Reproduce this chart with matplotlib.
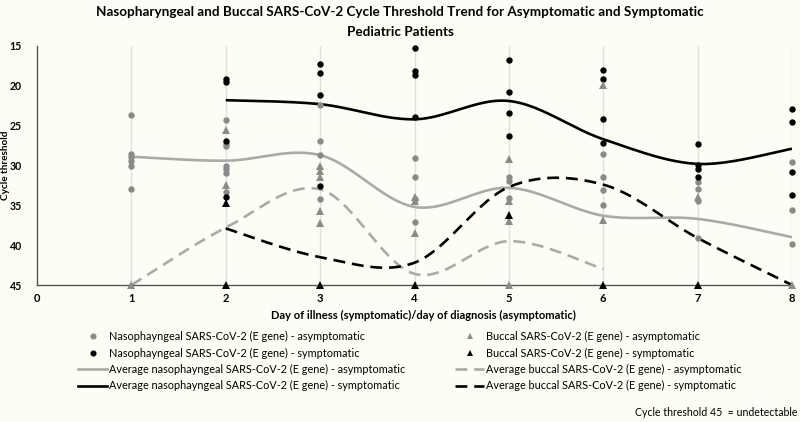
import numpy as np
import matplotlib
matplotlib.use("Agg")
import matplotlib.pyplot as plt
from matplotlib.lines import Line2D

plt.rcParams['font.family'] = ['Lato', 'DejaVu Sans']

# ---- data ----
np_asym = {
    1: [23.6, 28.6, 28.9, 29.4, 30.0, 33.0],
    2: [24.3, 27.3, 27.6, 30.0, 30.4, 30.9, 33.3],
    3: [22.4, 26.9, 28.7, 34.2],
    4: [29.0, 31.4, 34.2, 37.1],
    5: [31.5, 31.9, 34.1],
    6: [28.5, 31.5, 33.1, 35.0],
    7: [32.1, 32.9, 34.5, 39.1],
    8: [29.5, 35.6, 39.9],
}
np_sym = {
    2: [19.2, 19.5, 26.9, 34.0],
    3: [17.3, 18.4, 21.2, 32.6],
    4: [15.2, 18.2, 18.6, 23.9],
    5: [16.8, 20.8, 23.4, 26.3],
    6: [18.0, 19.2, 24.2, 27.2],
    7: [27.3, 29.9, 30.4, 31.4],
    8: [22.9, 24.5, 30.8, 33.7],
}
buc_asym = {
    1: [45],
    2: [25.5, 32.5],
    3: [30.0, 30.7, 31.4, 35.7, 37.2],
    4: [33.9, 34.5, 38.5],
    5: [29.2, 34.5, 37.0, 45],
    6: [19.9, 36.8],
    7: [33.9],
    8: [45],
}
buc_sym = {
    2: [34.7, 45],
    3: [45],
    4: [45],
    5: [36.2],
    6: [45],
    7: [45],
}

avg_np_asym_days = [1, 2, 3, 4, 5, 6, 7, 8]
avg_np_asym = [28.9, 29.4, 28.7, 35.2, 32.8, 36.3, 36.7, 39.0]
avg_np_sym_days = [2, 3, 4, 5, 6, 7, 8]
avg_np_sym = [21.8, 22.3, 24.2, 21.9, 26.7, 29.8, 27.9]
avg_buc_asym_days = [1, 2, 3, 4, 5, 6]
avg_buc_asym = [45, 37.8, 33.0, 43.6, 39.5, 43.0]
avg_buc_sym_days = [2, 3, 4, 5, 6, 7, 8]
avg_buc_sym = [37.9, 41.5, 42.2, 32.7, 32.4, 39.1, 45]

x_ticks = list(range(0, 9))
y_ticks = [15, 20, 25, 30, 35, 40, 45]


def smooth(xs, ys, n=40):
    """Excel-like smoothed line (Catmull-Rom Bezier)."""
    xs = np.asarray(xs, float)
    ys = np.asarray(ys, float)
    px = np.concatenate([[xs[0]], xs, [xs[-1]]])
    py = np.concatenate([[ys[0]], ys, [ys[-1]]])
    outx, outy = [], []
    t = np.linspace(0, 1, n)
    for i in range(1, len(px) - 2):
        p0 = np.array([px[i], py[i]])
        p3 = np.array([px[i + 1], py[i + 1]])
        p1 = p0 + (np.array([px[i + 1], py[i + 1]]) - np.array([px[i - 1], py[i - 1]])) / 6
        p2 = p3 - (np.array([px[i + 2], py[i + 2]]) - np.array([px[i], py[i]])) / 6
        b = ((1 - t) ** 3)[:, None] * p0 + (3 * (1 - t) ** 2 * t)[:, None] * p1 \
            + (3 * (1 - t) * t ** 2)[:, None] * p2 + (t ** 3)[:, None] * p3
        outx.extend(b[:, 0])
        outy.extend(b[:, 1])
    return outx, outy


BG = '#fdfdf6'
GRAY_M = '#8a8a8a'
GRAY_L = '#aaaaaa'

fig = plt.figure(figsize=(8, 4.22), dpi=100, facecolor=BG)
ax = fig.add_axes([37 / 800, 1 - 285 / 422, (792 - 37) / 800, (285 - 46) / 422])
ax.set_facecolor(BG)
ax.set_xlim(0, 8)
ax.set_ylim(45, 15)

for d in range(1, 9):
    ax.axvline(d, color='#e2e2dc', lw=1.0, zorder=0)

lw = 1.9
dash = (4.5, 2.6)
x, y = smooth(avg_np_asym_days, avg_np_asym)
ax.plot(x, y, color=GRAY_L, lw=lw, zorder=2, solid_capstyle='butt')
x, y = smooth(avg_np_sym_days, avg_np_sym)
ax.plot(x, y, color='black', lw=lw, zorder=2, solid_capstyle='butt')
x, y = smooth(avg_buc_asym_days, avg_buc_asym)
ax.plot(x, y, color=GRAY_L, lw=lw, ls=(0, dash), zorder=2)
x, y = smooth(avg_buc_sym_days, avg_buc_sym)
ax.plot(x, y, color='black', lw=lw, ls=(0, dash), zorder=2)


def scatter(dct, marker, color, ms):
    xs, ys = [], []
    for d, vals in dct.items():
        xs += [d] * len(vals)
        ys += vals
    ax.plot(xs, ys, ls='none', marker=marker, color=color, ms=ms, mew=0, zorder=3, clip_on=False)


scatter(np_asym, 'o', GRAY_M, 4.6)
scatter(np_sym, 'o', 'black', 4.6)
scatter(buc_asym, '^', GRAY_M, 6.4)
scatter(buc_sym, '^', 'black', 6.4)

for s in ['top', 'right']:
    ax.spines[s].set_visible(False)
for s in ['left', 'bottom']:
    ax.spines[s].set_color('#555555')
    ax.spines[s].set_linewidth(1.0)

ax.set_xticks(x_ticks)
ax.set_yticks(y_ticks)
ax.tick_params(length=0, labelsize=8, pad=6)
ax.tick_params(axis='y', labelsize=7.6, pad=11)
for lab in ax.get_xticklabels() + ax.get_yticklabels():
    lab.set_fontweight('bold')

fig.text(5.5 / 800, 1 - 165 / 422, 'Cycle threshold', rotation=90,
         ha='center', va='center', fontsize=7.2, fontweight='bold')
fig.text(423 / 800, 1 - 315 / 422, 'Day of illness (symptomatic)/day of diagnosis (asymptomatic)',
         ha='center', va='center', fontsize=8, fontweight='bold')

fig.text(400 / 800, 1 - 12 / 422,
         'Nasopharyngeal and Buccal SARS-CoV-2 Cycle Threshold Trend for Asymptomatic and Symptomatic',
         ha='center', va='center', fontsize=9.7, fontweight='bold')
fig.text(400 / 800, 1 - 32 / 422, 'Pediatric Patients',
         ha='center', va='center', fontsize=9.7, fontweight='bold')

h1 = [
    Line2D([], [], ls='none', marker='o', color=GRAY_M, ms=4.4, mew=0),
    Line2D([], [], ls='none', marker='o', color='black', ms=4.4, mew=0),
    Line2D([], [], color=GRAY_L, lw=lw),
    Line2D([], [], color='black', lw=lw),
]
l1 = ['Nasophayngeal SARS-CoV-2 (E gene) - asymptomatic',
      'Nasophayngeal SARS-CoV-2 (E gene) - symptomatic',
      'Average nasophayngeal SARS-CoV-2 (E gene) - asymptomatic',
      'Average nasophayngeal SARS-CoV-2 (E gene) - symptomatic']
h2 = [
    Line2D([], [], ls='none', marker='^', color=GRAY_M, ms=4.6, mew=0),
    Line2D([], [], ls='none', marker='^', color='black', ms=4.6, mew=0),
    Line2D([], [], color=GRAY_L, lw=lw, ls=(0, dash)),
    Line2D([], [], color='black', lw=lw, ls=(0, dash)),
]
l2 = ['Buccal SARS-CoV-2 (E gene) - asymptomatic',
      'Buccal SARS-CoV-2 (E gene) - symptomatic',
      'Average buccal SARS-CoV-2 (E gene) - asymptomatic',
      'Average buccal SARS-CoV-2 (E gene) - symptomatic']

common = dict(frameon=False, fontsize=7.8, handlelength=2.7, handletextpad=0.2,
              labelspacing=0.5, borderpad=0, borderaxespad=0, loc='upper left')
leg1 = fig.legend(h1, l1, bbox_to_anchor=(78 / 800, 1 - 331 / 422), **common)
leg2 = fig.legend(h2, l2, bbox_to_anchor=(455 / 800, 1 - 331 / 422), **common)

fig.text(797 / 800, 1 - 413 / 422, 'Cycle threshold 45  = undetectable',
         ha='right', va='center', fontsize=7.6)

fig.savefig('out.png', dpi=100, facecolor=BG)
